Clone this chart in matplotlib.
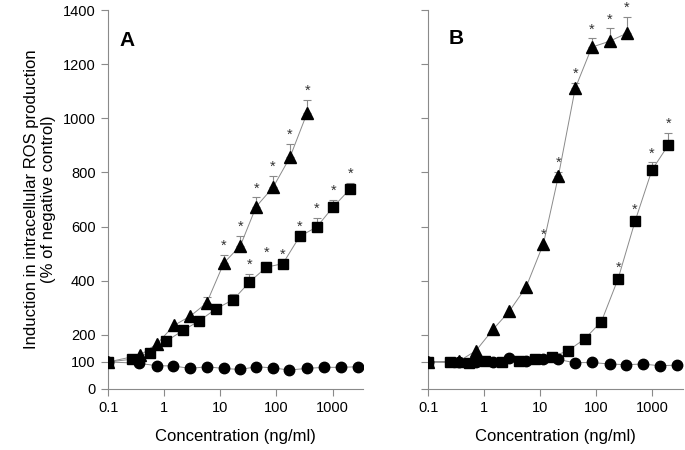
import matplotlib
matplotlib.use("Agg")
import matplotlib.pyplot as plt
import numpy as np

plt.rcParams['font.family'] = ['Liberation Sans', 'DejaVu Sans']

# panel A
a_tri_x = [0.1, 0.37, 0.75, 1.49, 2.9, 5.7, 11.5, 22.8, 43.5, 87, 174, 354]
a_tri_y = [100, 125, 168, 235, 269, 318, 465, 530, 674, 745, 856, 1021]
a_tri_err = [0, 0, 0, 0, 0, 22, 29, 35, 34, 43, 49, 46]
a_tri_star = [0, 0, 0, 0, 0, 0, 1, 1, 1, 1, 1, 1]

a_sq_x = [0.1, 0.27, 0.55, 1.07, 2.19, 4.2, 8.5, 17, 33, 66, 130, 260, 520, 1040, 2080]
a_sq_y = [100, 110, 134, 176, 217, 252, 297, 330, 395, 450, 463, 564, 598, 674, 740]
a_sq_err = [0, 0, 0, 0, 0, 0, 0, 20, 31, 19, 0, 0, 34, 25, 20]
a_sq_star = [0, 0, 0, 0, 0, 0, 0, 0, 1, 1, 1, 1, 1, 1, 1]

a_ci_x = [0.1, 0.35, 0.73, 1.45, 2.9, 5.7, 11.4, 22, 44, 86, 170, 345, 705, 1400, 2800]
a_ci_y = [100, 95, 86, 85, 76, 82, 76, 72, 82, 78, 70, 76, 80, 80, 82]

# panel B
b_tri_x = [0.1, 0.355, 0.71, 1.45, 2.8, 5.6, 11.4, 21, 42, 83, 173, 345]
b_tri_y = [100, 103, 141, 221, 287, 377, 537, 786, 1111, 1263, 1285, 1314]
b_tri_err = [0, 0, 0, 0, 0, 0, 0, 16, 19, 32, 47, 61]
b_tri_star = [0, 0, 0, 0, 0, 0, 1, 1, 1, 1, 1, 1]

b_sq_x = [0.1, 0.25, 0.54, 1.02, 2.07, 4.1, 7.9, 16, 31, 62, 123, 245, 490, 980, 1930]
b_sq_y = [100, 98, 97, 104, 98, 104, 112, 119, 141, 185, 249, 408, 620, 809, 902]
b_sq_err = [0, 0, 0, 0, 0, 0, 0, 0, 0, 0, 0, 5, 10, 28, 43]
b_sq_star = [0, 0, 0, 0, 0, 0, 0, 0, 0, 0, 0, 1, 1, 1, 1]

b_ci_x = [0.1, 0.355, 0.71, 1.43, 2.8, 5.6, 11.1, 21, 41, 83, 174, 335, 680, 1345, 2700]
b_ci_y = [100, 100, 98, 98, 113, 104, 109, 109, 97, 98, 92, 90, 92, 86, 88]

x_ticks = [0.1, 1, 10, 100, 1000]
x_labels = ["0.1", "1", "10", "100", "1000"]
y_ticks = [0, 100, 200, 400, 600, 800, 1000, 1200, 1400]

GRAY = "#8a8a8a"


def draw_series(ax, x, y, marker, ms, err=None, star=None):
    ax.plot(x, y, color=GRAY, lw=0.7, zorder=2)
    if err is not None:
        xs = [xi for xi, e in zip(x, err) if e > 0]
        ys = [yi for yi, e in zip(y, err) if e > 0]
        es = [e for e in err if e > 0]
        ax.errorbar(xs, ys, yerr=[np.zeros(len(es)), es], fmt="none", ecolor=GRAY,
                    elinewidth=0.8, capsize=3, capthick=0.8, zorder=1)
    ax.plot(x, y, linestyle="none", marker=marker, ms=ms, color="black", zorder=3)
    if star is not None:
        for xi, yi, e, s in zip(x, y, err, star):
            if s:
                ax.annotate("*", (xi, yi + e), textcoords="offset points", xytext=(0, 1.5),
                            ha="center", va="bottom", fontsize=10.5, color="#333333",
                            annotation_clip=False)


def setup_axes(ax, show_ylabels):
    ax.set_xscale("log")
    ax.set_xlim(0.1, 3500)
    ax.set_ylim(0, 1400)
    ax.set_xticks(x_ticks)
    ax.set_xticklabels(x_labels)
    ax.minorticks_off()
    ax.set_yticks(y_ticks)
    if not show_ylabels:
        ax.set_yticklabels([])
    for side in ["top", "right"]:
        ax.spines[side].set_visible(False)
    for side in ["left", "bottom"]:
        ax.spines[side].set_color(GRAY)
        ax.spines[side].set_linewidth(0.8)
    ax.tick_params(direction="out", length=5, width=0.8, color=GRAY, labelsize=10.5, pad=4)
    ax.set_xlabel("Concentration (ng/ml)", fontsize=12, labelpad=10)
    for s in ax.spines.values():
        s.set_clip_on(False)


fig = plt.figure(figsize=(6.85, 4.5), dpi=100)
ax_a = fig.add_axes([0.158, 0.1356, 0.372, 0.842])
ax_b = fig.add_axes([0.625, 0.1356, 0.372, 0.842])

setup_axes(ax_a, True)
setup_axes(ax_b, False)

draw_series(ax_a, a_ci_x, a_ci_y, "o", 7.5)
draw_series(ax_a, a_sq_x, a_sq_y, "s", 6.5, a_sq_err, a_sq_star)
draw_series(ax_a, a_tri_x, a_tri_y, "^", 9, a_tri_err, a_tri_star)

draw_series(ax_b, b_ci_x, b_ci_y, "o", 7.5)
draw_series(ax_b, b_sq_x, b_sq_y, "s", 6.5, b_sq_err, b_sq_star)
draw_series(ax_b, b_tri_x, b_tri_y, "^", 9, b_tri_err, b_tri_star)

ax_a.set_ylabel("Induction in intracellular ROS production\n(% of negative control)",
                fontsize=12, labelpad=5)

ax_a.text(0.045, 0.92, "A", transform=ax_a.transAxes, fontsize=15, fontweight="bold", va="center")
ax_b.text(0.08, 0.925, "B", transform=ax_b.transAxes, fontsize=15, fontweight="bold", va="center")

fig.savefig("out.png", dpi=100)
